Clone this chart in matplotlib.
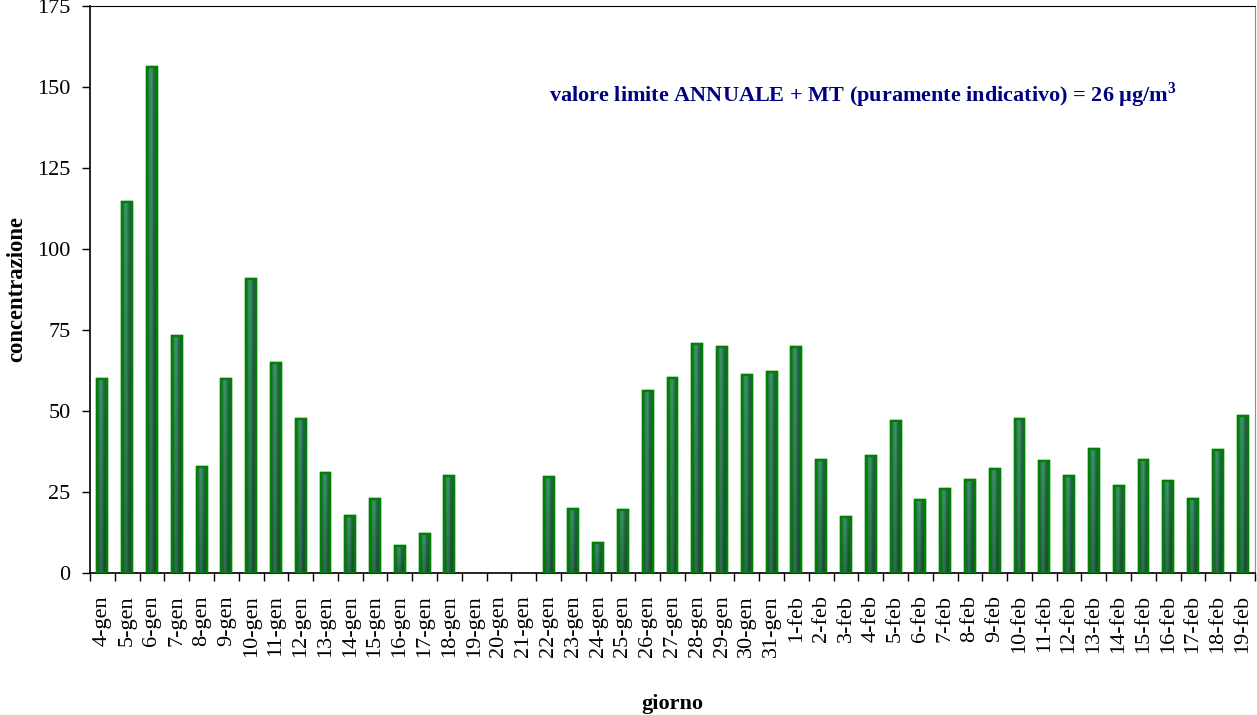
import numpy as np
import matplotlib
matplotlib.use("Agg")
import matplotlib.pyplot as plt
from matplotlib.ticker import FixedLocator

days_gen = [f"{d}-gen" for d in range(4, 32)]
days_feb = [f"{d}-feb" for d in range(1, 20)]
categories = days_gen + days_feb

values = [60, 114.6, 156.3, 73.2, 32.8, 59.8, 90.6, 64.9, 47.6, 31.0, 17.7, 22.9, 8.4, 11.9, 30.0,
          np.nan, np.nan, np.nan,
          29.7, 19.8, 9.3, 19.4, 56.2, 60.2, 70.7, 69.8, 61.1, 61.9,
          69.8, 34.9, 17.2, 36.2, 46.9, 22.5, 26.0, 28.8, 32.2, 47.6, 34.5, 30.0, 38.4, 26.9,
          34.9, 28.3, 22.9, 38.0, 48.5]

yticks = [0, 25, 50, 75, 100, 125, 150, 175]
annotation = "valore limite ANNUALE + MT (puramente indicativo) = 26 µg/m$^{\\mathbf{3}}$"

plt.rcParams['font.family'] = ['Liberation Serif', 'DejaVu Serif']
plt.rcParams['mathtext.fontset'] = 'custom'
plt.rcParams['mathtext.rm'] = 'Liberation Serif'
plt.rcParams['mathtext.bf'] = 'Liberation Serif:bold'

fig = plt.figure(figsize=(12.57, 7.15), dpi=100)
ax = fig.add_axes([90/1257, 1-573/715, (1255-90)/1257, (573-6)/715])

x = np.arange(len(categories))
vals = np.array(values, dtype=float)
bw = 0.4
bars = ax.bar(x, np.nan_to_num(vals), width=bw, facecolor='#2c7350', edgecolor='#008000',
              linewidth=1.7, zorder=3)

# gradient shading inside each bar
nx, ny = 20, 60
gx = np.linspace(0, 1, nx)
hprof = 0.6 + 0.4 * np.exp(-((gx - 0.38) / 0.28) ** 2)
gy = np.linspace(0, 1, ny)[:, None]
vprof = 0.75 + 0.25 * gy
base = np.array([0.21, 0.56, 0.38])
img = np.clip(base[None, None, :] * (hprof[None, :, None] * vprof[:, :, None]) * 1.05, 0, 1)
for b, v in zip(bars, vals):
    if np.isnan(v) or v <= 0:
        b.set_visible(False)
        continue
    x0 = b.get_x()
    im = ax.imshow(img, extent=[x0, x0 + b.get_width(), 0, v], origin='lower',
                   aspect='auto', zorder=3.5, interpolation='bilinear')
    im.set_clip_path(b)
    ax.bar(b.get_x() + b.get_width()/2, v, width=bw, facecolor='none', edgecolor='#008000',
           linewidth=1.7, zorder=4)

ax.set_xlim(-0.5, len(categories) - 0.5)
ax.set_ylim(0, 175)
ax.set_yticks(yticks)
ax.set_xticks(x)
ax.set_xticklabels(categories, rotation=90, fontsize=16)
ax.xaxis.set_minor_locator(FixedLocator(np.arange(-0.5, len(categories), 1.0)))
ax.tick_params(axis='x', which='major', length=0, pad=16)
ax.tick_params(axis='x', which='minor', length=6, width=1, direction='out')
ax.tick_params(axis='y', which='major', length=6, width=1, direction='out', labelsize=16, pad=8)
ax.set_aspect('auto')

ax.spines['top'].set_color('black')
ax.spines['right'].set_color('#909090')
for s in ['left', 'bottom']:
    ax.spines[s].set_color('black')
    ax.spines[s].set_linewidth(1.2)

ax.set_ylabel('concentrazione', fontsize=16.3, fontweight='bold', labelpad=7)
ax.set_xlabel('giorno', fontsize=16, fontweight='bold', labelpad=27)

fig.text(549/1257, 1-95/715, annotation, color='#000080', fontsize=16, fontweight='bold',
         ha='left', va='center')

fig.savefig('out.png', dpi=100)
